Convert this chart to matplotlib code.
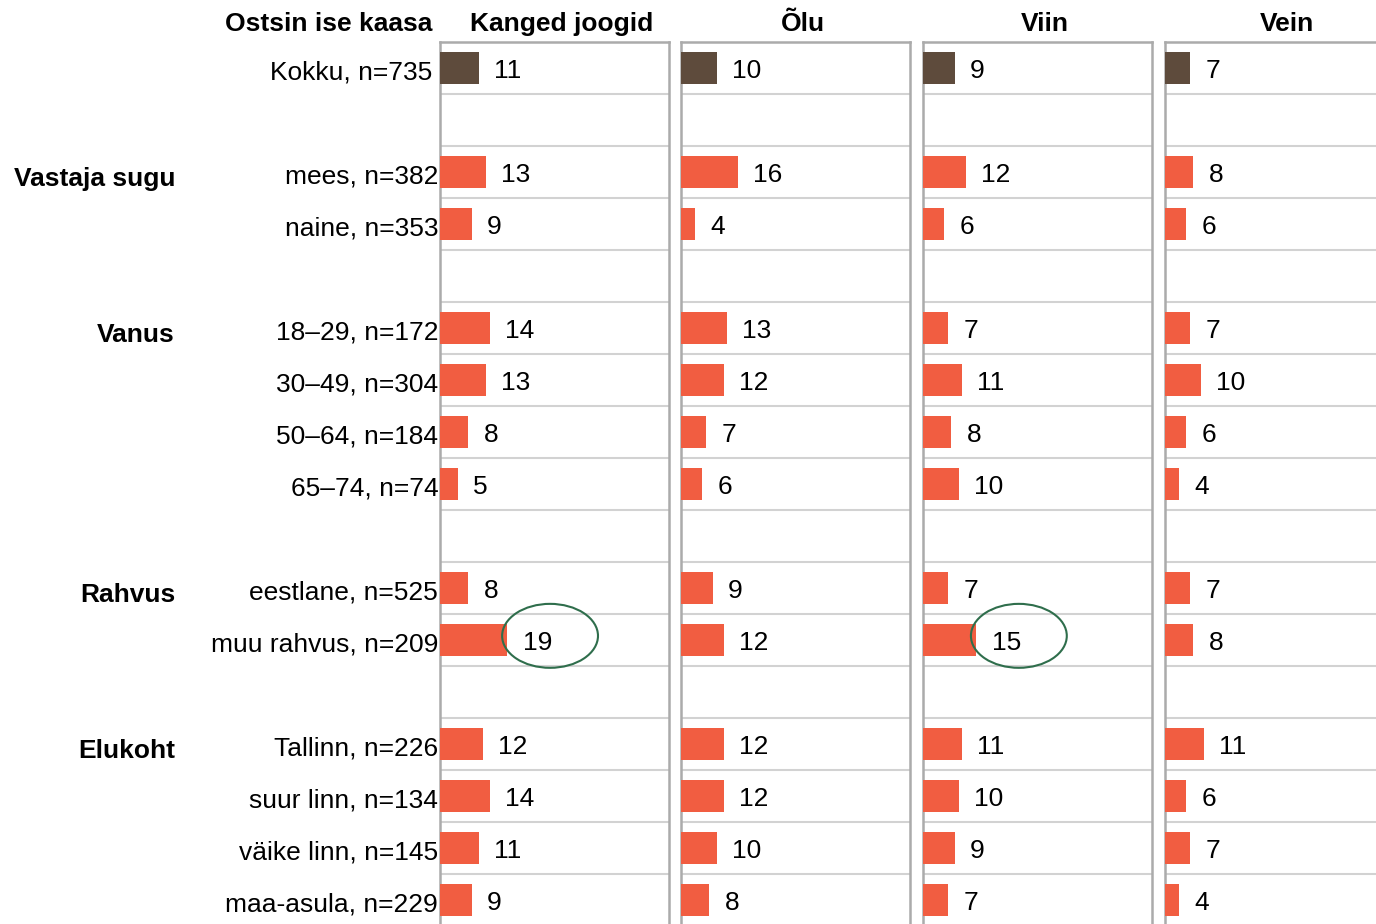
import numpy as np
import matplotlib
matplotlib.use("Agg")
from matplotlib import pyplot as plt
from matplotlib import transforms
from matplotlib.patches import Ellipse

plt.rcParams['font.family'] = ['Liberation Sans', 'DejaVu Sans']

# rows from top to bottom, "" = spacer row
rows = ["Kokku, n=735", "", "mees, n=382", "naine, n=353", "",
        "18–29, n=172", "30–49, n=304", "50–64, n=184", "65–74, n=74", "",
        "eestlane, n=525", "muu rahvus, n=209", "",
        "Tallinn, n=226", "suur linn, n=134", "väike linn, n=145", "maa-asula, n=229"]

groups = {"Vastaja sugu": 2, "Vanus": 5, "Rahvus": 10, "Elukoht": 13}

panels = ["Kanged joogid", "Õlu", "Viin", "Vein"]

kanged = [11, None, 13, 9, None, 14, 13, 8, 5, None, 8, 19, None, 12, 14, 11, 9]
olu = [10, None, 16, 4, None, 13, 12, 7, 6, None, 9, 12, None, 12, 12, 10, 8]
viin = [9, None, 12, 6, None, 7, 11, 8, 10, None, 7, 15, None, 11, 10, 9, 7]
vein = [7, None, 8, 6, None, 7, 10, 6, 4, None, 7, 8, None, 11, 6, 7, 4]
series = [kanged, olu, viin, vein]

# circled values: (panel index, row index)
highlight = [(0, 11), (2, 11)]

c_total = '#5e4b3c'
c_bar = '#f15d41'
c_border = '#ababab'
c_grid = '#d2d2d2'
c_circle = '#2f6e4c'

W, H = 1376, 924
fig = plt.figure(figsize=(W / 100, H / 100), dpi=100)

n = len(rows)
top_px = 42
row_px = 52
pan_left = [440, 681, 923, 1165]
pan_w = 229
xmax = 64.5
fs = 19

axes = []
for p, name in enumerate(panels):
    bottom_px = top_px + n * row_px
    ax = fig.add_axes([pan_left[p] / W, 1 - bottom_px / H, pan_w / W, n * row_px / H])
    axes.append(ax)
    vals = series[p]
    for i, v in enumerate(vals):
        if v is None:
            continue
        col = c_total if i == 0 else c_bar
        ax.barh(i, v, height=0.6, color=col, zorder=3)
        ax.annotate(str(v), (v, i + 0.06), xytext=(11, 0), textcoords='offset points',
                    va='center', ha='left', fontsize=fs)
    for b in range(1, n):
        ax.axhline(b - 0.5, color=c_grid, lw=1.5, zorder=1)
    ax.set_xlim(0, xmax)
    ax.set_ylim(n - 0.5, -0.5)
    ax.set_xticks([])
    ax.set_yticks([])
    for s in ax.spines.values():
        s.set_color(c_border)
        s.set_linewidth(1.8)
    fig.text((pan_left[p] + pan_w / 2 + 7) / W, 1 - 24 / H, name, ha='center', va='center',
             fontsize=fs, fontweight='bold')

    for hp, hr in highlight:
        if hp == p:
            v = vals[hr]
            e = Ellipse((v + 12, hr - 0.08), width=27, height=1.23, fill=False,
                        edgecolor=c_circle, lw=1.5, zorder=5, clip_on=False)
            ax.add_patch(e)

ax0 = axes[0]
for i, lab in enumerate(rows):
    if lab:
        pad = -2.2 if i == 0 else -0.5
        ax0.text(pad, i + 0.09, lab, ha='right', va='center', fontsize=fs)

tr = transforms.blended_transform_factory(fig.transFigure, ax0.transData)
for g, r in groups.items():
    fig.text(175 / W, r + 0.13, g, transform=tr, ha='right', va='center',
             fontsize=fs, fontweight='bold')

fig.text(432 / W, 1 - 24 / H, "Ostsin ise kaasa", ha='right', va='center',
         fontsize=fs, fontweight='bold')

fig.savefig("out.png", dpi=100)
